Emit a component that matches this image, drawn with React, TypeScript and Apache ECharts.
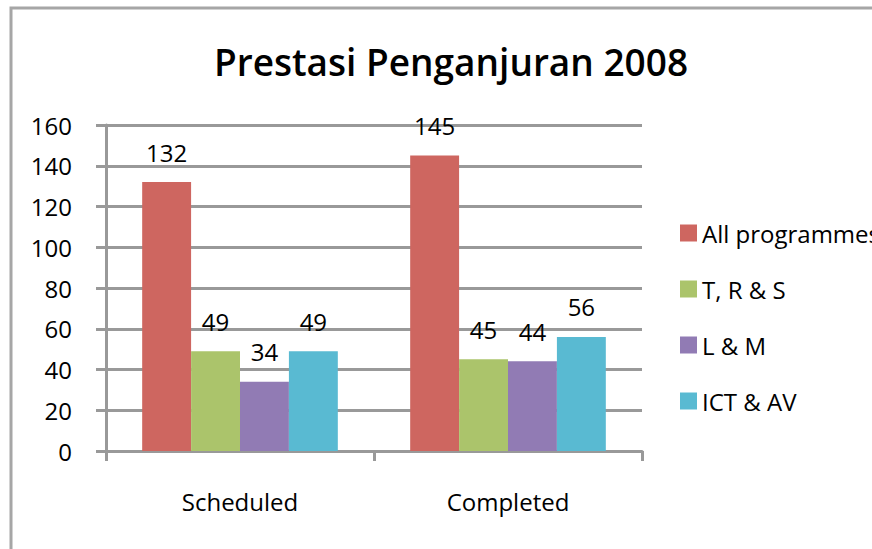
import React, { useEffect, useRef } from "react";
import * as echarts from "echarts";

const categories = ["Scheduled", "Completed"];
const seriesNames = ["All programmes", "T, R & S", "L & M", "ICT & AV"];
const allProgrammes = [132, 145];
const trs = [49, 45];
const lm = [34, 44];
const ictav = [49, 56];
const colors = ["#CE6660", "#ABC46B", "#917BB4", "#59BAD2"];
const yTicks = { min: 0, max: 160, interval: 20 };

export default function App() {
  const ref = useRef<HTMLDivElement>(null);
  useEffect(() => {
    document.body.style.margin = "0";
    if (!ref.current) return;
    const chart = echarts.init(ref.current, null, { renderer: "svg" });
    const font = "Open Sans";
    const values = [allProgrammes, trs, lm, ictav];
    chart.setOption({
      animation: false,
      backgroundColor: "#ffffff",
      textStyle: { fontFamily: font },
      title: {
        text: "Prestasi Penganjuran 2008",
        left: 446,
        top: 38,
        textAlign: "center",
        textStyle: { fontSize: 37, fontWeight: 600, color: "#000", fontFamily: font },
      },
      graphic: [
        {
          type: "rect",
          shape: { x: 11, y: 8, width: 900, height: 600 },
          style: { fill: "none", stroke: "#A6A6A6", lineWidth: 3 },
          silent: true,
        },
      ],
      legend: {
        orient: "vertical",
        left: 675,
        top: 216,
        itemWidth: 17,
        itemHeight: 17,
        itemGap: 32,
        icon: "rect",
        textStyle: { fontSize: 24, color: "#000", fontFamily: font, padding: [0, 0, 0, 0] },
        data: seriesNames,
      },
      grid: { left: 106, top: 125, width: 536, height: 326 },
      xAxis: {
        type: "category",
        data: categories,
        axisLine: { lineStyle: { color: "#999999", width: 3 } },
        axisTick: { show: true, length: 10, lineStyle: { color: "#999999", width: 3 } },
        axisLabel: { fontSize: 24, color: "#000", margin: 38, fontFamily: font },
      },
      yAxis: {
        type: "value",
        min: yTicks.min,
        max: yTicks.max,
        interval: yTicks.interval,
        axisLine: { show: true, lineStyle: { color: "#999999", width: 3 } },
        axisTick: { show: true, length: 10, lineStyle: { color: "#999999", width: 3 } },
        splitLine: { lineStyle: { color: "#999999", width: 3 } },
        axisLabel: { fontSize: 24, color: "#000", margin: 34, fontFamily: font },
      },
      series: seriesNames.map((name, i) => ({
        name,
        type: "bar",
        data: values[i],
        barGap: "0%",
        barCategoryGap: "27%",
        itemStyle: { color: colors[i] },
        label: {
          show: true,
          position: "top",
          distance: 18,
          fontSize: 24,
          color: "#000",
          fontFamily: font,
        },
      })),
    });
    return () => chart.dispose();
  }, []);
  return <div ref={ref} style={{ width: 872, height: 549 }} />;
}
